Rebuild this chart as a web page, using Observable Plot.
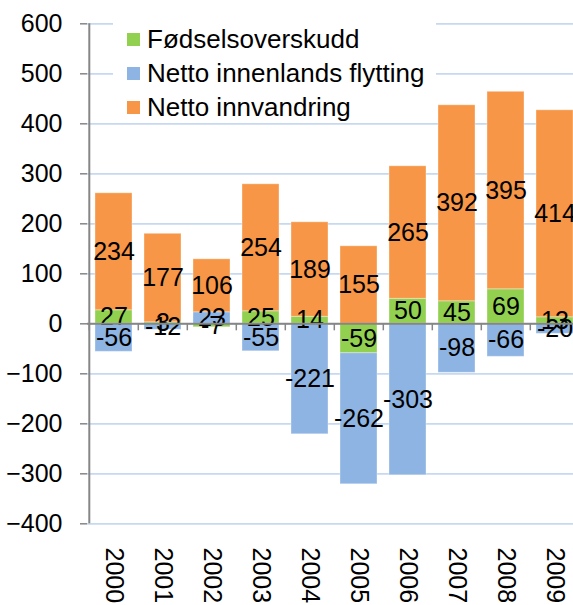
<!DOCTYPE html>
<html>
<head>
<meta charset="utf-8">
<script src="https://cdn.jsdelivr.net/npm/d3@7"></script>
<script src="https://cdn.jsdelivr.net/npm/@observablehq/plot@0.6"></script>
<style>
  html, body { margin: 0; padding: 0; background: #fff; }
  #wrap { position: relative; width: 573px; height: 605px; overflow: hidden; font-family: "Liberation Sans", Arial, sans-serif; }
  #legend { position: absolute; left: 113px; top: 18px; width: 323px; height: 102px; background: #fff; }
  .item { position: absolute; left: 14px; height: 34px; display: flex; align-items: center; font-size: 26px; color: #000; white-space: nowrap; }
  .sw { width: 13px; height: 13px; margin-right: 7px; flex: none; }
</style>
</head>
<body>
<div id="wrap"></div>
<script>
const years = ["2000","2001","2002","2003","2004","2005","2006","2007","2008","2009"];
const seriesNames = ["Fødselsoverskudd", "Netto innenlands flytting", "Netto innvandring"];
const seriesColors = ["#92D050", "#8DB4E2", "#F79646"];
const fodselsoverskudd = [27, 3, -7, 25, 14, -59, 50, 45, 69, 13];
const innenlandsFlytting = [-56, -12, 23, -55, -221, -262, -303, -98, -66, -20];
const innvandring = [234, 177, 106, 254, 189, 155, 265, 392, 395, 414];
const yTicks = [-400, -300, -200, -100, 0, 100, 200, 300, 400, 500, 600];

const seriesValues = [fodselsoverskudd, innenlandsFlytting, innvandring];
const data = [];
years.forEach((yr, i) => {
  seriesNames.forEach((s, k) => data.push({year: yr, series: s, value: seriesValues[k][i]}));
});

const W = 573, H = 605;
const x0 = 87.3, step = 49.4;
const half = step / 2;

const chart = Plot.plot({
  width: W,
  height: H,
  marginLeft: 87,
  marginRight: 0,
  marginTop: 23,
  marginBottom: 82,
  style: {fontFamily: "Liberation Sans, Arial, sans-serif", fontSize: "25px", color: "#000", background: "#fff"},
  x: {domain: years, range: [x0, x0 + step * years.length], paddingInner: 0.24, paddingOuter: 0.12, align: 0.5},
  y: {domain: [-400, 600], range: [523.3, 23.3]},
  color: {domain: seriesNames, range: seriesColors},
  marks: [
    Plot.gridY(yTicks, {stroke: "#C6D9F1", strokeOpacity: 1, strokeWidth: 1.7}),
    Plot.barY(data, {x: "year", y: "value", fill: "series", order: seriesNames, stroke: "#fff", strokeOpacity: 0.35, strokeWidth: 1}),
    Plot.text(data, Plot.stackY({x: "year", y: "value", z: "series", order: seriesNames, text: d => String(d.value), fontSize: 25, fill: "#000"})),
    Plot.ruleY([0], {stroke: "#868686", strokeWidth: 2}),
    Plot.ruleX(years, {x: d => d, y1: 0, y2: -14, dx: -half, stroke: "#868686", strokeWidth: 1.5}),
    Plot.ruleX([years[0]], {x: d => d, y1: -400, y2: 600, dx: -half, stroke: "#868686", strokeWidth: 2}),
    Plot.axisY(yTicks, {tickSize: 7, tickPadding: 18, stroke: "#868686", strokeWidth: 1.5, fontSize: 25, label: null}),
    Plot.axisX({anchor: "bottom", tickSize: 0, tickPadding: 24, tickRotate: 90, fontSize: 25, label: null})
  ]
});

const wrap = document.getElementById("wrap");
wrap.appendChild(chart);

const legend = document.createElement("div");
legend.id = "legend";
const centers = [21, 55, 89];
seriesNames.forEach((s, k) => {
  const item = document.createElement("div");
  item.className = "item";
  item.style.top = (centers[k] - 17) + "px";
  const sw = document.createElement("span");
  sw.className = "sw";
  sw.style.background = seriesColors[k];
  const t = document.createElement("span");
  t.textContent = s;
  item.appendChild(sw);
  item.appendChild(t);
  legend.appendChild(item);
});
wrap.appendChild(legend);
</script>
</body>
</html>
